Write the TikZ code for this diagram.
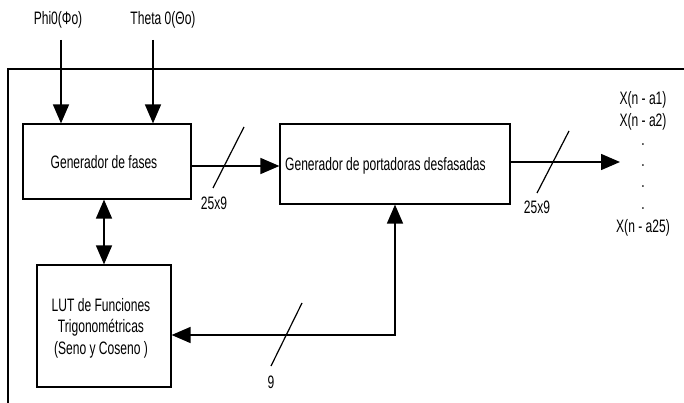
\documentclass[tikz,border=0pt]{standalone}
\usepackage{fontspec}
\setmainfont{Liberation Sans}[FakeStretch=0.67]
\usetikzlibrary{arrows.meta}
\begin{document}
\begin{tikzpicture}[x=1pt,y=-1pt,
  every node/.style={font=\fontsize{18}{21.5}\selectfont},
  blk/.style={draw, line width=1.2pt, inner sep=0pt},
  conn/.style={line width=1.5pt},
  tip/.style={-{Triangle[length=19pt,width=16pt]}},
  bitip/.style={{Triangle[length=19pt,width=16pt]}-{Triangle[length=19pt,width=16pt]}},
  slash/.style={line width=1.2pt},
  lbl/.style={inner sep=0pt}]
\useasboundingbox (0,0) rectangle (684,403);
% frame
\draw[line width=1.2pt] (684,69) -- (8,69) -- (8,403);
% boxes
\node[blk, minimum width=168pt, minimum height=75pt] (b1) at (107,161.5) {};
\node[lbl] (t1) at (104,162) {Generador de fases};
\node[blk, minimum width=230pt, minimum height=80pt] (b2) at (395,164) {};
\node[lbl, anchor=west] (t2) at (285,166) {Generador de portadoras desfasadas};
\node[blk, minimum width=134pt, minimum height=122pt] (b3) at (104,326) {};
\node[lbl, align=center] (t3) at (101,328) {LUT de Funciones\\Trigonométricas\\(Seno y Coseno )};
% inputs
\node[lbl] (phi) at (58,20) {Phi0(Φo)};
\node[lbl] (theta) at (163,20) {Theta 0(Θo)};
\coordinate (p1) at (61,40);
\coordinate (p2) at (153,40);
\draw[conn,tip] (p1) -- (p1 |- b1.north);
\draw[conn,tip] (p2) -- (p2 |- b1.north);
% b1 -> b2
\draw[conn,tip] ([yshift=-4.5pt]b1.east) -- (b2.west |- 0,166);
\draw[slash] (213,188) -- (244,127);
\node[lbl] (l1) at (214,203) {25x9};
% output
\coordinate (out) at (620,162);
\draw[conn,tip] (b2.east |- out) -- (out);
\draw[slash] (537,193) -- (569,131);
\node[lbl] (l2) at (537,207) {25x9};
\node[lbl] (o1) at (643,100) {X(n - a1)};
\node[lbl] (o2) at (643,122) {X(n - a2)};
\node[lbl] (d1) at (643,145) {.};
\node[lbl] (d2) at (643,166) {.};
\node[lbl] (d3) at (643,187) {.};
\node[lbl] (d4) at (643,209) {.};
\node[lbl] (o25) at (643,228) {X(n - a25)};
% b1 <-> b3
\draw[conn,bitip] (b3.north) -- (b3.north |- b1.south);
% feedback
\draw[conn,bitip] ([yshift=-9pt]b3.east) -| (b2.south);
\draw[slash] (271,366) -- (302,303);
\node[lbl] (l3) at (271,382) {9};
\end{tikzpicture}
\end{document}
